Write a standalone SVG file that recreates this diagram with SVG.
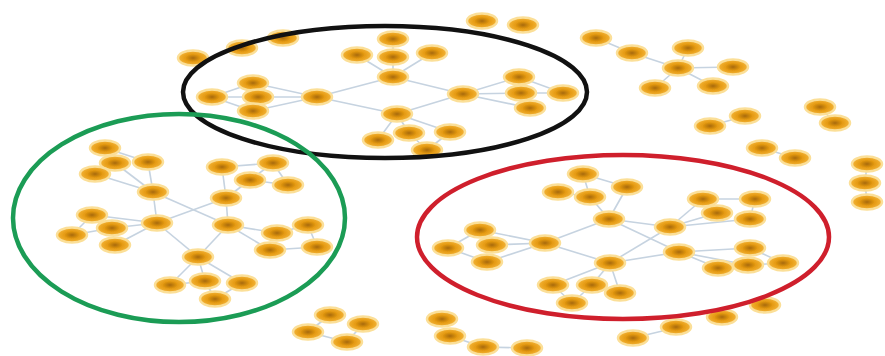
<svg xmlns="http://www.w3.org/2000/svg" width="885" height="356" viewBox="0 0 885 356">
<defs>
<radialGradient id="ng" cx="50%" cy="50%" r="50%">
<stop offset="0" stop-color="#A86A08"/>
<stop offset="0.5" stop-color="#E59A12"/>
<stop offset="1" stop-color="#F4B53A"/>
</radialGradient>
<filter id="soft" x="-30%" y="-50%" width="160%" height="200%"><feGaussianBlur stdDeviation="0.7"/></filter>
</defs>
<style>
.n ellipse{fill:url(#ng);stroke:#FBDF98;stroke-width:2.5;filter:url(#soft)}
.e line{stroke:#C6D3E0;stroke-width:1.6}
.ring{fill:none;stroke-width:4.5}
</style>
<rect width="885" height="356" fill="#FFFFFF"/>
<g id="connectors" class="e">
<line x1="393" y1="77" x2="393" y2="57"/><line x1="393" y1="57" x2="393" y2="39"/><line x1="393" y1="77" x2="357" y2="55"/><line x1="393" y1="77" x2="432" y2="53"/>
<line x1="317" y1="97" x2="253" y2="83"/><line x1="317" y1="97" x2="258" y2="97"/><line x1="317" y1="97" x2="253" y2="111"/><line x1="212" y1="97" x2="253" y2="83"/><line x1="212" y1="97" x2="253" y2="111"/><line x1="212" y1="97" x2="258" y2="97"/>
<line x1="317" y1="97" x2="393" y2="77"/><line x1="317" y1="97" x2="397" y2="114"/><line x1="393" y1="77" x2="463" y2="94"/><line x1="397" y1="114" x2="463" y2="94"/>
<line x1="463" y1="94" x2="519" y2="77"/><line x1="463" y1="94" x2="521" y2="93"/><line x1="463" y1="94" x2="530" y2="108"/><line x1="521" y1="93" x2="563" y2="93"/><line x1="519" y1="77" x2="563" y2="93"/>
<line x1="397" y1="114" x2="378" y2="140"/><line x1="397" y1="114" x2="409" y2="133"/><line x1="397" y1="114" x2="450" y2="132"/><line x1="409" y1="133" x2="427" y2="150"/><line x1="450" y1="132" x2="427" y2="150"/>
<line x1="105" y1="148" x2="115" y2="163"/><line x1="105" y1="148" x2="148" y2="162"/><line x1="115" y1="163" x2="153" y2="192"/><line x1="148" y1="162" x2="153" y2="192"/><line x1="95" y1="174" x2="153" y2="192"/>
<line x1="222" y1="167" x2="226" y2="198"/><line x1="250" y1="180" x2="226" y2="198"/><line x1="273" y1="163" x2="250" y2="180"/><line x1="273" y1="163" x2="288" y2="185"/><line x1="222" y1="167" x2="273" y2="163"/><line x1="250" y1="180" x2="288" y2="185"/>
<line x1="153" y1="192" x2="157" y2="223"/><line x1="226" y1="198" x2="228" y2="225"/><line x1="153" y1="192" x2="228" y2="225"/><line x1="226" y1="198" x2="157" y2="223"/>
<line x1="157" y1="223" x2="92" y2="215"/><line x1="157" y1="223" x2="112" y2="228"/><line x1="157" y1="223" x2="115" y2="245"/><line x1="92" y1="215" x2="72" y2="235"/><line x1="72" y1="235" x2="112" y2="228"/><line x1="112" y1="228" x2="115" y2="245"/>
<line x1="228" y1="225" x2="277" y2="233"/><line x1="228" y1="225" x2="270" y2="250"/><line x1="277" y1="233" x2="308" y2="225"/><line x1="308" y1="225" x2="317" y2="247"/><line x1="270" y1="250" x2="317" y2="247"/>
<line x1="157" y1="223" x2="198" y2="257"/><line x1="228" y1="225" x2="198" y2="257"/><line x1="198" y1="257" x2="170" y2="285"/><line x1="198" y1="257" x2="205" y2="281"/><line x1="198" y1="257" x2="242" y2="283"/><line x1="205" y1="281" x2="215" y2="299"/><line x1="242" y1="283" x2="215" y2="299"/><line x1="170" y1="285" x2="205" y2="281"/>
<line x1="583" y1="174" x2="590" y2="197"/><line x1="583" y1="174" x2="627" y2="187"/><line x1="558" y1="192" x2="590" y2="197"/><line x1="590" y1="197" x2="609" y2="219"/><line x1="627" y1="187" x2="609" y2="219"/>
<line x1="609" y1="219" x2="545" y2="243"/><line x1="609" y1="219" x2="670" y2="227"/><line x1="609" y1="219" x2="679" y2="252"/><line x1="670" y1="227" x2="610" y2="263"/>
<line x1="670" y1="227" x2="703" y2="199"/><line x1="670" y1="227" x2="717" y2="213"/><line x1="670" y1="227" x2="750" y2="219"/><line x1="703" y1="199" x2="755" y2="199"/><line x1="755" y1="199" x2="750" y2="219"/>
<line x1="545" y1="243" x2="480" y2="230"/><line x1="545" y1="243" x2="492" y2="245"/><line x1="545" y1="243" x2="487" y2="262"/><line x1="480" y1="230" x2="448" y2="248"/><line x1="448" y1="248" x2="487" y2="262"/>
<line x1="545" y1="243" x2="610" y2="263"/><line x1="610" y1="263" x2="679" y2="252"/><line x1="610" y1="263" x2="553" y2="285"/><line x1="610" y1="263" x2="592" y2="285"/><line x1="610" y1="263" x2="620" y2="293"/><line x1="553" y1="285" x2="572" y2="303"/><line x1="592" y1="285" x2="572" y2="303"/>
<line x1="679" y1="252" x2="750" y2="248"/><line x1="679" y1="252" x2="718" y2="268"/><line x1="679" y1="252" x2="748" y2="265"/><line x1="748" y1="265" x2="783" y2="263"/><line x1="750" y1="248" x2="783" y2="263"/>
<line x1="596" y1="38" x2="632" y2="53"/><line x1="632" y1="53" x2="678" y2="68"/><line x1="678" y1="68" x2="688" y2="48"/><line x1="678" y1="68" x2="733" y2="67"/><line x1="678" y1="68" x2="655" y2="88"/><line x1="678" y1="68" x2="713" y2="86"/>
<line x1="745" y1="116" x2="710" y2="126"/><line x1="762" y1="148" x2="795" y2="158"/><line x1="820" y1="107" x2="835" y2="123"/><line x1="867" y1="164" x2="865" y2="183"/><line x1="865" y1="183" x2="867" y2="202"/>
<line x1="330" y1="315" x2="308" y2="332"/><line x1="308" y1="332" x2="347" y2="342"/><line x1="347" y1="342" x2="363" y2="324"/><line x1="450" y1="336" x2="483" y2="347"/><line x1="483" y1="347" x2="527" y2="348"/><line x1="633" y1="338" x2="675" y2="328"/>
</g>
<g id="nodes" class="n">
<g id="b1"><ellipse cx="393" cy="39" rx="15" ry="7.5"/></g>
<g id="b2"><ellipse cx="357" cy="55" rx="15" ry="7.5"/></g>
<g id="b3"><ellipse cx="393" cy="57" rx="15" ry="7.5"/></g>
<g id="b4"><ellipse cx="432" cy="53" rx="15" ry="7.5"/></g>
<g id="b5"><ellipse cx="393" cy="77" rx="15" ry="7.5"/></g>
<g id="b6"><ellipse cx="253" cy="83" rx="15" ry="7.5"/></g>
<g id="b7"><ellipse cx="212" cy="97" rx="15" ry="7.5"/></g>
<g id="b8"><ellipse cx="258" cy="97" rx="15" ry="7.5"/></g>
<g id="b9"><ellipse cx="253" cy="111" rx="15" ry="7.5"/></g>
<g id="b10"><ellipse cx="317" cy="97" rx="15" ry="7.5"/></g>
<g id="b11"><ellipse cx="463" cy="94" rx="15" ry="7.5"/></g>
<g id="b12"><ellipse cx="519" cy="77" rx="15" ry="7.5"/></g>
<g id="b13"><ellipse cx="521" cy="93" rx="15" ry="7.5"/></g>
<g id="b14"><ellipse cx="563" cy="93" rx="15" ry="7.5"/></g>
<g id="b15"><ellipse cx="530" cy="108" rx="15" ry="7.5"/></g>
<g id="b16"><ellipse cx="397" cy="114" rx="15" ry="7.5"/></g>
<g id="b17"><ellipse cx="378" cy="140" rx="15" ry="7.5"/></g>
<g id="b18"><ellipse cx="409" cy="133" rx="15" ry="7.5"/></g>
<g id="b19"><ellipse cx="450" cy="132" rx="15" ry="7.5"/></g>
<g id="b20"><ellipse cx="427" cy="150" rx="15" ry="7.5"/></g>
<g id="g1"><ellipse cx="105" cy="148" rx="15" ry="7.5"/></g>
<g id="g2"><ellipse cx="115" cy="163" rx="15" ry="7.5"/></g>
<g id="g3"><ellipse cx="148" cy="162" rx="15" ry="7.5"/></g>
<g id="g4"><ellipse cx="95" cy="174" rx="15" ry="7.5"/></g>
<g id="g5"><ellipse cx="153" cy="192" rx="15" ry="7.5"/></g>
<g id="g6"><ellipse cx="222" cy="167" rx="15" ry="7.5"/></g>
<g id="g7"><ellipse cx="273" cy="163" rx="15" ry="7.5"/></g>
<g id="g8"><ellipse cx="250" cy="180" rx="15" ry="7.5"/></g>
<g id="g9"><ellipse cx="288" cy="185" rx="15" ry="7.5"/></g>
<g id="g10"><ellipse cx="226" cy="198" rx="15" ry="7.5"/></g>
<g id="g11"><ellipse cx="92" cy="215" rx="15" ry="7.5"/></g>
<g id="g12"><ellipse cx="112" cy="228" rx="15" ry="7.5"/></g>
<g id="g13"><ellipse cx="72" cy="235" rx="15" ry="7.5"/></g>
<g id="g14"><ellipse cx="157" cy="223" rx="15" ry="7.5"/></g>
<g id="g15"><ellipse cx="115" cy="245" rx="15" ry="7.5"/></g>
<g id="g16"><ellipse cx="228" cy="225" rx="15" ry="7.5"/></g>
<g id="g17"><ellipse cx="308" cy="225" rx="15" ry="7.5"/></g>
<g id="g18"><ellipse cx="277" cy="233" rx="15" ry="7.5"/></g>
<g id="g19"><ellipse cx="317" cy="247" rx="15" ry="7.5"/></g>
<g id="g20"><ellipse cx="270" cy="250" rx="15" ry="7.5"/></g>
<g id="g21"><ellipse cx="198" cy="257" rx="15" ry="7.5"/></g>
<g id="g22"><ellipse cx="170" cy="285" rx="15" ry="7.5"/></g>
<g id="g23"><ellipse cx="205" cy="281" rx="15" ry="7.5"/></g>
<g id="g24"><ellipse cx="242" cy="283" rx="15" ry="7.5"/></g>
<g id="g25"><ellipse cx="215" cy="299" rx="15" ry="7.5"/></g>
<g id="r1"><ellipse cx="583" cy="174" rx="15" ry="7.5"/></g>
<g id="r2"><ellipse cx="558" cy="192" rx="15" ry="7.5"/></g>
<g id="r3"><ellipse cx="590" cy="197" rx="15" ry="7.5"/></g>
<g id="r4"><ellipse cx="627" cy="187" rx="15" ry="7.5"/></g>
<g id="r5"><ellipse cx="609" cy="219" rx="15" ry="7.5"/></g>
<g id="r6"><ellipse cx="703" cy="199" rx="15" ry="7.5"/></g>
<g id="r7"><ellipse cx="755" cy="199" rx="15" ry="7.5"/></g>
<g id="r8"><ellipse cx="717" cy="213" rx="15" ry="7.5"/></g>
<g id="r9"><ellipse cx="750" cy="219" rx="15" ry="7.5"/></g>
<g id="r10"><ellipse cx="670" cy="227" rx="15" ry="7.5"/></g>
<g id="r11"><ellipse cx="480" cy="230" rx="15" ry="7.5"/></g>
<g id="r12"><ellipse cx="448" cy="248" rx="15" ry="7.5"/></g>
<g id="r13"><ellipse cx="492" cy="245" rx="15" ry="7.5"/></g>
<g id="r14"><ellipse cx="487" cy="262" rx="15" ry="7.5"/></g>
<g id="r15"><ellipse cx="545" cy="243" rx="15" ry="7.5"/></g>
<g id="r16"><ellipse cx="679" cy="252" rx="15" ry="7.5"/></g>
<g id="r17"><ellipse cx="750" cy="248" rx="15" ry="7.5"/></g>
<g id="r18"><ellipse cx="718" cy="268" rx="15" ry="7.5"/></g>
<g id="r19"><ellipse cx="748" cy="265" rx="15" ry="7.5"/></g>
<g id="r20"><ellipse cx="783" cy="263" rx="15" ry="7.5"/></g>
<g id="r21"><ellipse cx="610" cy="263" rx="15" ry="7.5"/></g>
<g id="r22"><ellipse cx="553" cy="285" rx="15" ry="7.5"/></g>
<g id="r23"><ellipse cx="592" cy="285" rx="15" ry="7.5"/></g>
<g id="r24"><ellipse cx="620" cy="293" rx="15" ry="7.5"/></g>
<g id="r25"><ellipse cx="572" cy="303" rx="15" ry="7.5"/></g>
<g id="o1"><ellipse cx="283" cy="38" rx="15" ry="7.5"/></g>
<g id="o2"><ellipse cx="242" cy="48" rx="15" ry="7.5"/></g>
<g id="o3"><ellipse cx="193" cy="58" rx="15" ry="7.5"/></g>
<g id="o4"><ellipse cx="482" cy="21" rx="15" ry="7.5"/></g>
<g id="o5"><ellipse cx="523" cy="25" rx="15" ry="7.5"/></g>
<g id="o6"><ellipse cx="596" cy="38" rx="15" ry="7.5"/></g>
<g id="o7"><ellipse cx="632" cy="53" rx="15" ry="7.5"/></g>
<g id="o8"><ellipse cx="688" cy="48" rx="15" ry="7.5"/></g>
<g id="o9"><ellipse cx="678" cy="68" rx="15" ry="7.5"/></g>
<g id="o10"><ellipse cx="733" cy="67" rx="15" ry="7.5"/></g>
<g id="o11"><ellipse cx="655" cy="88" rx="15" ry="7.5"/></g>
<g id="o12"><ellipse cx="713" cy="86" rx="15" ry="7.5"/></g>
<g id="o13"><ellipse cx="820" cy="107" rx="15" ry="7.5"/></g>
<g id="o14"><ellipse cx="835" cy="123" rx="15" ry="7.5"/></g>
<g id="o15"><ellipse cx="745" cy="116" rx="15" ry="7.5"/></g>
<g id="o16"><ellipse cx="710" cy="126" rx="15" ry="7.5"/></g>
<g id="o17"><ellipse cx="762" cy="148" rx="15" ry="7.5"/></g>
<g id="o18"><ellipse cx="795" cy="158" rx="15" ry="7.5"/></g>
<g id="o19"><ellipse cx="867" cy="164" rx="15" ry="7.5"/></g>
<g id="o20"><ellipse cx="865" cy="183" rx="15" ry="7.5"/></g>
<g id="o21"><ellipse cx="867" cy="202" rx="15" ry="7.5"/></g>
<g id="o22"><ellipse cx="330" cy="315" rx="15" ry="7.5"/></g>
<g id="o23"><ellipse cx="308" cy="332" rx="15" ry="7.5"/></g>
<g id="o24"><ellipse cx="363" cy="324" rx="15" ry="7.5"/></g>
<g id="o25"><ellipse cx="347" cy="342" rx="15" ry="7.5"/></g>
<g id="o26"><ellipse cx="442" cy="319" rx="15" ry="7.5"/></g>
<g id="o27"><ellipse cx="450" cy="336" rx="15" ry="7.5"/></g>
<g id="o28"><ellipse cx="483" cy="347" rx="15" ry="7.5"/></g>
<g id="o29"><ellipse cx="527" cy="348" rx="15" ry="7.5"/></g>
<g id="o30"><ellipse cx="633" cy="338" rx="15" ry="7.5"/></g>
<g id="o31"><ellipse cx="676" cy="327" rx="15" ry="7.5"/></g>
<g id="o32"><ellipse cx="722" cy="317" rx="15" ry="7.5"/></g>
<g id="o33"><ellipse cx="765" cy="305" rx="15" ry="7.5"/></g>
</g>
<g id="rings">
<ellipse class="ring" cx="385" cy="92" rx="202" ry="66" stroke="#111111"/>
<ellipse class="ring" cx="179" cy="218" rx="166" ry="104" stroke="#1B9C55"/>
<ellipse class="ring" cx="623" cy="237" rx="206" ry="82" stroke="#CF1F2C"/>
</g>
</svg>
